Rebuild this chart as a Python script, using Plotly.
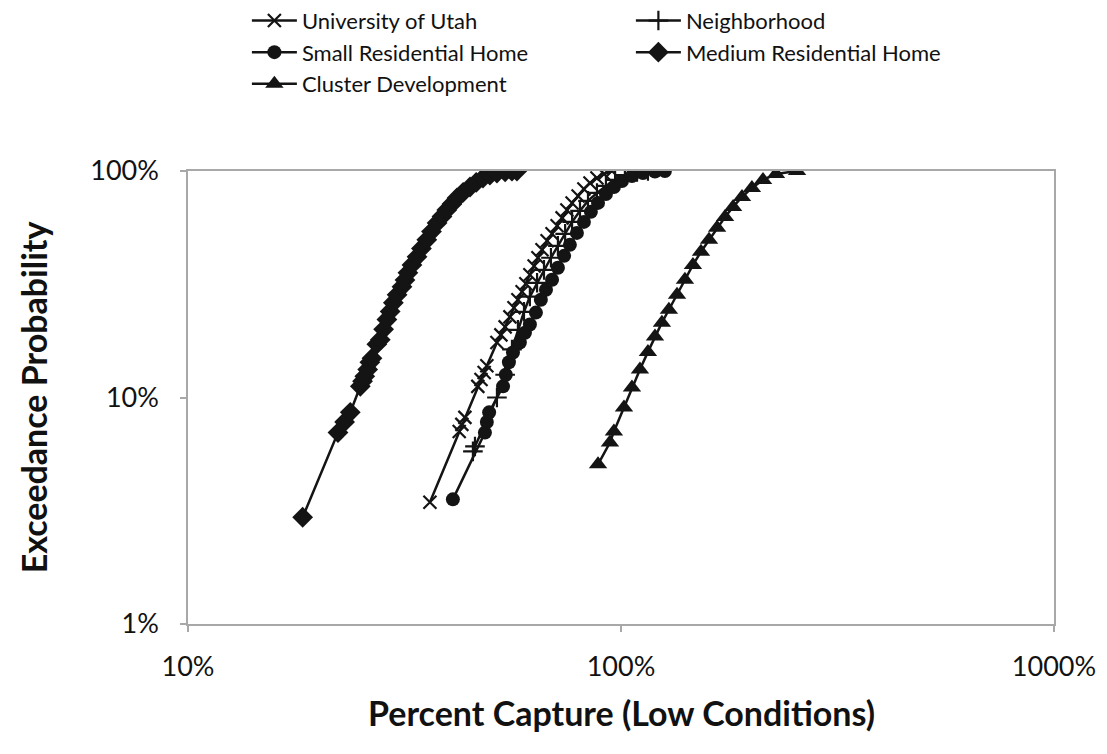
import plotly.graph_objects as go

# ---- data (x = percent capture, y = exceedance probability, both in %) ----
utah_x = [36.2, 42.3, 42.9, 43.6, 46.7, 47.5, 48.3, 49.0, 51.7, 52.8, 54.0, 55.4, 56.6, 57.8,
          59.1, 60.3, 61.6, 63.0, 64.3, 65.7, 67.5, 69.3, 71.2, 73.1, 75.0, 77.1, 79.6, 82.1,
          84.8, 88.0, 91.4, 95.3]
utah_y = [3.45, 7.08, 7.61, 8.17, 11.2, 12.0, 12.9, 13.8, 17.5, 18.9, 20.5, 22.7, 24.9, 27.0,
          29.3, 31.8, 34.8, 38.1, 41.4, 44.9, 49.2, 52.8, 57.3, 62.1, 67.3, 72.3, 77.6, 83.3,
          88.5, 93.1, 97.0, 100.0]

nbhd_x = [45.5, 46.0, 51.7, 54.0, 56.0, 57.8, 59.7, 61.6, 64.0, 66.4, 68.9, 71.5, 74.3, 77.1,
          80.4, 83.9, 88.0, 92.3, 96.9, 102.1, 108.9, 115.4]
nbhd_y = [5.78, 6.08, 10.0, 12.6, 16.3, 19.9, 23.9, 27.9, 32.1, 36.6, 41.4, 46.7, 52.8, 59.6,
          66.7, 73.8, 80.0, 85.9, 91.3, 96.0, 99.0, 100.0]

small_x = [40.9, 48.5, 49.0, 49.6, 53.4, 54.2, 55.1, 56.3, 58.4, 60.0, 61.6, 63.6, 65.3, 67.1,
           69.3, 71.5, 73.9, 76.2, 79.1, 82.1, 85.2, 88.5, 92.3, 96.3, 100.5, 106.0, 112.4,
           119.8, 126.3]
small_y = [3.55, 7.0, 7.8, 8.6, 11.2, 12.6, 14.3, 15.8, 17.5, 19.3, 21.0, 23.7, 27.0, 29.9,
           33.1, 37.4, 42.2, 47.2, 53.3, 59.6, 66.0, 72.3, 79.2, 85.0, 90.4, 95.1, 98.0,
           99.5, 100.0]

medium_x = [18.4, 22.2, 23.0, 23.7, 25.0, 25.3, 25.6, 26.0, 26.3, 26.6, 27.3, 27.8, 28.3, 28.8,
            29.3, 29.8, 30.4, 31.2, 31.7, 32.2, 32.9, 33.8, 34.6, 35.6, 36.5, 37.6, 38.6, 39.6,
            40.7, 41.8, 43.2, 44.8, 46.3, 48.0, 49.8, 51.7, 54.0, 56.0, 57.5]
medium_y = [2.96, 7.0, 7.8, 8.6, 11.2, 11.8, 12.4, 13.3, 14.3, 14.9, 17.2, 18.0, 20.0, 22.1,
            24.0, 26.2, 28.4, 30.8, 33.0, 35.5, 38.5, 41.8, 45.5, 49.7, 54.0, 59.0, 63.0, 67.3,
            71.5, 76.0, 80.5, 85.0, 89.0, 93.1, 96.0, 98.0, 99.2, 99.8, 100.0]

cluster_x = [88.5, 94.3, 96.3, 101.6, 106.0, 110.6, 115.4, 119.8, 124.3, 129.0, 134.7, 140.5,
             146.6, 153.0, 159.7, 166.7, 173.9, 181.5, 190.3, 200.6, 212.8, 228.0, 255.0]
cluster_y = [5.07, 6.33, 7.08, 9.03, 11.07, 13.28, 15.9, 18.6, 21.4, 24.4, 28.4, 33.1, 38.5,
             44.0, 49.7, 56.1, 62.7, 69.4, 76.8, 84.2, 91.3, 97.0, 100.0]

x_tick_vals = [10, 100, 1000]
x_tick_text = ["10%", "100%", "1000%"]
y_tick_vals = [1, 10, 100]
y_tick_text = ["1%", "10%", "100%"]

INK = "#141414"
FONT = "Lato"

series = [
    ("University of Utah", utah_x, utah_y, dict(symbol="x-thin-open", size=13, line=dict(width=2.2, color=INK))),
    ("Neighborhood", nbhd_x, nbhd_y, dict(symbol="cross-thin-open", size=14, line=dict(width=2.2, color=INK))),
    ("Small Residential Home", small_x, small_y, dict(symbol="circle", size=14, line=dict(width=0))),
    ("Medium Residential Home", medium_x, medium_y, dict(symbol="diamond", size=16, line=dict(width=0))),
    ("Cluster Development", cluster_x, cluster_y, dict(symbol="triangle-up", size=16, line=dict(width=0))),
]

fig = go.Figure()
for name, xs, ys, mk in series:
    fig.add_trace(go.Scatter(x=xs, y=ys, name=name, mode="lines+markers",
                             line=dict(color=INK, width=2.5), marker=dict(color=INK, **mk)))

axis_common = dict(type="log", showgrid=False, zeroline=False, showline=True, linecolor="#a8a8a8",
                   linewidth=1.5, mirror=True, ticks="outside", ticklen=6, tickcolor="#a8a8a8",
                   tickwidth=1.5, tickfont=dict(family=FONT, size=27, color="#111"))

fig.update_xaxes(range=[1, 3], tickvals=x_tick_vals, ticktext=x_tick_text, ticklabelstandoff=12, **axis_common)
fig.update_yaxes(range=[0, 2], tickvals=y_tick_vals, ticktext=y_tick_text, ticklabelstandoff=16, **axis_common)

fig.update_layout(
    width=1107, height=754,
    margin=dict(l=188, r=53, t=171, b=130, autoexpand=False),
    paper_bgcolor="white", plot_bgcolor="white",
    font=dict(family=FONT, color="#111"),
    showlegend=True,
    legend=dict(orientation="h", x=0.068, xanchor="left", y=1.378, yanchor="top",
                entrywidth=324, entrywidthmode="pixels", itemwidth=45,
                font=dict(family=FONT, size=22, color="#111"), tracegroupgap=0,
                bgcolor="rgba(0,0,0,0)"),
    annotations=[
        dict(text="<b>Percent Capture (Low Conditions)</b>", xref="paper", yref="paper",
             x=0.5, y=-0.195, xanchor="center", yanchor="middle", showarrow=False,
             font=dict(family=FONT, size=34, color="#111")),
        dict(text="<b>Exceedance Probability</b>", xref="paper", yref="paper",
             x=-0.178, y=0.5, xanchor="center", yanchor="middle", showarrow=False, textangle=-90,
             font=dict(family=FONT, size=34, color="#111")),
    ],
)

fig.write_html("out.html")
